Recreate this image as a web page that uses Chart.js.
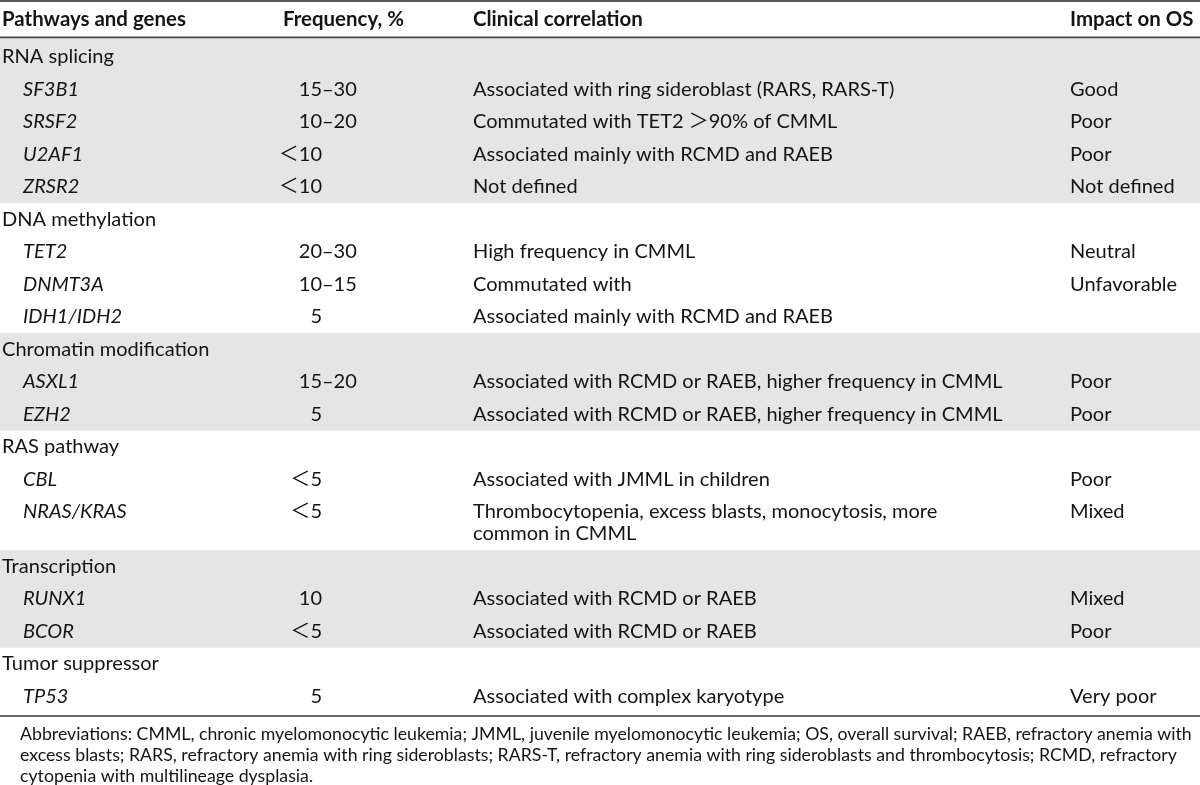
<!DOCTYPE html>
<html><head><meta charset="utf-8">
<script src="https://cdn.jsdelivr.net/npm/chart.js@4.4.1/dist/chart.umd.min.js"></script>
<style>html,body{margin:0;padding:0;background:#fff}#wrap{width:1200px;height:785px;position:relative}</style>
</head><body><div id="wrap"><canvas id="c" width="1200" height="785"></canvas></div>
<script>
// ---- data ----
const headers = ['Pathways and genes', 'Frequency, %', 'Clinical correlation', 'Impact on OS'];
const groupNames = ['RNA splicing', 'DNA methylation', 'Chromatin modification', 'RAS pathway', 'Transcription', 'Tumor suppressor'];
const genes = ['SF3B1', 'SRSF2', 'U2AF1', 'ZRSR2', 'TET2', 'DNMT3A', 'IDH1/IDH2', 'ASXL1', 'EZH2', 'CBL', 'NRAS/KRAS', 'RUNX1', 'BCOR', 'TP53'];
const geneGroup = [0, 0, 0, 0, 1, 1, 1, 2, 2, 3, 3, 4, 4, 5];
const frequencies = ['15–30', '10–20', '＜10', '＜10', '20–30', '10–15', '5', '15–20', '5', '＜5', '＜5', '10', '＜5', '5'];
const correlations = [
  'Associated with ring sideroblast (RARS, RARS-T)',
  'Commutated with TET2 ＞90% of CMML',
  'Associated mainly with RCMD and RAEB',
  'Not defined',
  'High frequency in CMML',
  'Commutated with',
  'Associated mainly with RCMD and RAEB',
  'Associated with RCMD or RAEB, higher frequency in CMML',
  'Associated with RCMD or RAEB, higher frequency in CMML',
  'Associated with JMML in children',
  'Thrombocytopenia, excess blasts, monocytosis, more\ncommon in CMML',
  'Associated with RCMD or RAEB',
  'Associated with RCMD or RAEB',
  'Associated with complex karyotype'
];
const impacts = ['Good', 'Poor', 'Poor', 'Not defined', 'Neutral', 'Unfavorable', '', 'Poor', 'Poor', 'Poor', 'Mixed', 'Mixed', 'Poor', 'Very poor'];
const shadedGroups = [0, 2, 4];
const footnoteLines = [
  'Abbreviations: CMML, chronic myelomonocytic leukemia; JMML, juvenile myelomonocytic leukemia; OS, overall survival; RAEB, refractory anemia with',
  'excess blasts; RARS, refractory anemia with ring sideroblasts; RARS-T, refractory anemia with ring sideroblasts and thrombocytosis; RCMD, refractory',
  'cytopenia with multilineage dysplasia.'
];

// ---- layout (row units) ----
const HEADER_U = 1.12, GAP_U = 0.1, EXTRA_LINE_U = 0.68, BOTTOM_U = 0.1;
const COL = { group: 2, gene: 23, freqHead: 283, freqAnchor: 322, clin: 473, impact: 1070, footer: 20 };
const FAMILY = "Lato, 'Noto Sans CJK SC', sans-serif";
const TEXT = '#141414', BAND = '#e5e5e5';

// build row structure from the data arrays
const rows = [];
let cursor = HEADER_U + GAP_U;
const groupSpan = [];
groupNames.forEach((g, gi) => {
  const start = cursor;
  rows.push({ kind: 'group', gi, top: cursor, h: 1 });
  cursor += 1;
  genes.forEach((gene, i) => {
    if (geneGroup[i] !== gi) return;
    const nLines = correlations[i].split('\n').length;
    const h = 1 + (nLines - 1) * EXTRA_LINE_U;
    rows.push({ kind: 'gene', i, top: cursor, h });
    cursor += h;
  });
  groupSpan.push([gi === 0 ? HEADER_U : start, cursor]);
});
const TOTAL_U = cursor + BOTTOM_U;

function fit(ctx, text, font, target, base) {
  ctx.font = font(base);
  return base * target / ctx.measureText(text).width;
}

const tablePlugin = {
  id: 'tablePlugin',
  beforeDraw(chart) {
    const { ctx, scales: { x, y } } = chart;
    ctx.save();
    ctx.fillStyle = '#fff';
    ctx.fillRect(0, 0, chart.width, chart.height);
    ctx.fillStyle = BAND;
    const xl = x.getPixelForValue(x.min), xr = x.getPixelForValue(x.max);
    shadedGroups.forEach(gi => {
      const [a, b] = groupSpan[gi];
      const y0 = y.getPixelForValue(a), y1 = y.getPixelForValue(b);
      ctx.fillRect(xl, y0, xr - xl, y1 - y0);
    });
    ctx.restore();
  },
  afterDraw(chart) {
    const { ctx, scales: { x, y } } = chart;
    const bodyFont = s => `${s}px ${FAMILY}`;
    const boldFont = s => `bold ${s}px ${FAMILY}`;
    const itFont = s => `italic ${s}px ${FAMILY}`;
    const bodySize = fit(ctx, correlations[7], bodyFont, 530, 20);
    const headSize = fit(ctx, headers[0], boldFont, 184, 20);
    const footSize = fit(ctx, footnoteLines[0], bodyFont, 1173, 17);
    ctx.save();
    ctx.fillStyle = TEXT;
    ctx.textBaseline = 'middle';
    // header
    ctx.font = boldFont(headSize);
    const hy = y.getPixelForValue(HEADER_U / 2);
    ctx.textAlign = 'left';
    ctx.fillText(headers[0], x.getPixelForValue(COL.group), hy);
    ctx.fillText(headers[1], x.getPixelForValue(COL.freqHead), hy);
    ctx.fillText(headers[2], x.getPixelForValue(COL.clin), hy);
    ctx.fillText(headers[3], x.getPixelForValue(COL.impact), hy);
    // rows
    rows.forEach(r => {
      const cy = y.getPixelForValue(r.top + 0.5);
      if (r.kind === 'group') {
        ctx.font = bodyFont(bodySize);
        ctx.textAlign = 'left';
        ctx.fillText(groupNames[r.gi], x.getPixelForValue(COL.group), cy);
        return;
      }
      const i = r.i;
      ctx.font = itFont(bodySize);
      ctx.textAlign = 'left';
      ctx.fillText(genes[i], x.getPixelForValue(COL.gene), cy);
      ctx.font = bodyFont(bodySize);
      // frequency: first number right-aligned on the anchor
      const f = frequencies[i];
      const dash = f.indexOf('–');
      const firstPart = dash >= 0 ? f.slice(0, dash) : f;
      const fx = x.getPixelForValue(COL.freqAnchor) - ctx.measureText(firstPart).width;
      ctx.fillText(f, fx, cy);
      correlations[i].split('\n').forEach((line, k) => {
        ctx.fillText(line, x.getPixelForValue(COL.clin), y.getPixelForValue(r.top + 0.5 + k * EXTRA_LINE_U));
      });
      if (impacts[i]) ctx.fillText(impacts[i], x.getPixelForValue(COL.impact), cy);
    });
    // rules
    const xl = x.getPixelForValue(x.min), xr = x.getPixelForValue(x.max);
    const hline = (v, w, c) => {
      ctx.beginPath(); ctx.strokeStyle = c; ctx.lineWidth = w;
      const py = y.getPixelForValue(v);
      ctx.moveTo(xl, py); ctx.lineTo(xr, py); ctx.stroke();
    };
    hline(0, 1.6, '#222');
    hline(HEADER_U, 1.6, '#444');
    hline(TOTAL_U, 1.6, '#333');
    // footnote
    ctx.font = bodyFont(footSize);
    ctx.textAlign = 'left';
    ctx.fillStyle = TEXT;
    footnoteLines.forEach((line, k) => {
      ctx.fillText(line, x.getPixelForValue(COL.footer), y.getPixelForValue(TOTAL_U + 0.55 + k * 0.655));
    });
    ctx.restore();
  }
};

new Chart(document.getElementById('c'), {
  type: 'scatter',
  data: { datasets: [] },
  options: {
    responsive: false,
    animation: false,
    devicePixelRatio: 1,
    layout: { padding: { top: 1, bottom: 69, left: 0, right: 0 } },
    plugins: { legend: { display: false }, tooltip: { enabled: false } },
    scales: {
      x: { type: 'linear', min: 0, max: 1200, offset: false, display: false },
      y: { type: 'linear', min: 0, max: TOTAL_U, reverse: true, offset: false, display: false }
    }
  },
  plugins: [tablePlugin]
});
</script>
</body></html>
